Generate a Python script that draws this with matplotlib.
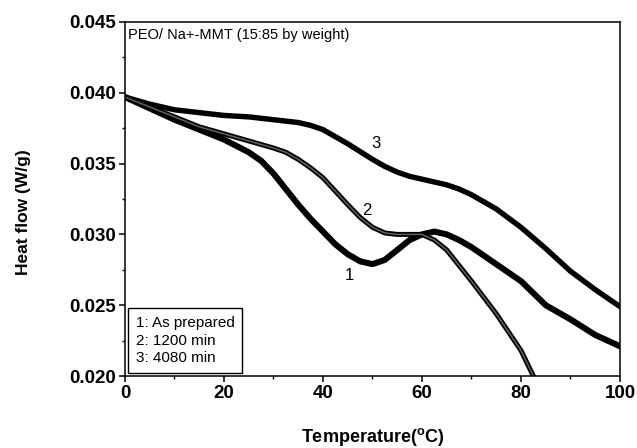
import matplotlib
matplotlib.use('Agg')
import matplotlib.pyplot as plt
import numpy as np
from matplotlib.ticker import MultipleLocator

plt.rcParams['font.family'] = ['Liberation Sans', 'DejaVu Sans']

# curve 1: as prepared
t1 = [0, 5, 10, 15, 20, 25, 27.5, 30, 32.5, 35, 37.5, 40, 42.5, 45, 47.5, 50, 52.5, 55, 57.5,
      60, 62.5, 65, 67.5, 70, 75, 80, 85, 90, 95, 100]
hf1 = [0.0397, 0.0389, 0.0381, 0.0374, 0.0367, 0.0358, 0.0352, 0.0343, 0.0332, 0.0321, 0.0311,
       0.0302, 0.0293, 0.0286, 0.0281, 0.0279, 0.0282, 0.0289, 0.0296, 0.0300, 0.0302, 0.0300,
       0.0296, 0.0291, 0.0279, 0.0267, 0.0250, 0.0240, 0.0229, 0.0221]

# curve 2: 1200 min
t2 = [0, 5, 10, 15, 20, 25, 30, 32.5, 35, 37.5, 40, 45, 47.5, 50, 52.5, 55, 57.5, 60, 62.5,
      65, 70, 75, 80, 82.5]
hf2 = [0.0397, 0.0390, 0.0383, 0.0376, 0.0371, 0.0366, 0.0361, 0.0358, 0.0353, 0.0347, 0.0340,
       0.0321, 0.0312, 0.0305, 0.0301, 0.0300, 0.0300, 0.0300, 0.0296, 0.0289, 0.0267, 0.0244,
       0.0218, 0.0200]

# curve 3: 4080 min
t3 = [0, 5, 10, 15, 20, 25, 30, 35, 37.5, 40, 42.5, 45, 50, 52.5, 55, 57.5, 60, 62.5, 65,
      67.5, 70, 75, 80, 85, 90, 95, 100]
hf3 = [0.0397, 0.0392, 0.0388, 0.0386, 0.0384, 0.0383, 0.0381, 0.0379, 0.0377, 0.0374, 0.0369,
       0.0364, 0.0353, 0.0348, 0.0344, 0.0341, 0.0339, 0.0337, 0.0335, 0.0332, 0.0328, 0.0318,
       0.0305, 0.0290, 0.0274, 0.0261, 0.0249]

curve_labels = ['1', '2', '3']
label_pos = [(45.3, 0.0271), (48.9, 0.0317), (50.7, 0.0364)]
legend_lines = ['1: As prepared', '2: 1200 min', '3: 4080 min']

fig = plt.figure(figsize=(6.37, 4.48), dpi=100)
ax = fig.add_axes([0.1962, 0.1607, 0.7771, 0.7902])

ax.plot(t1, hf1, color='black', lw=4.4, solid_joinstyle='round', solid_capstyle='round')
ax.plot(t3, hf3, color='black', lw=3.9, solid_joinstyle='round', solid_capstyle='round')
ax.plot(t2, hf2, color='black', lw=3.6, solid_joinstyle='round', solid_capstyle='round')
ax.plot(t2, hf2, color='#606060', lw=1.1, solid_joinstyle='round', solid_capstyle='round')

for lab, (x, y) in zip(curve_labels, label_pos):
    ax.text(x, y, lab, fontsize=12, ha='center', va='center')

ax.set_xlim(0, 100)
ax.set_ylim(0.020, 0.045)
ax.xaxis.set_major_locator(MultipleLocator(20))
ax.xaxis.set_minor_locator(MultipleLocator(10))
ax.yaxis.set_major_locator(MultipleLocator(0.005))
ax.yaxis.set_minor_locator(MultipleLocator(0.0025))
ax.yaxis.set_major_formatter(matplotlib.ticker.FormatStrFormatter('%.3f'))

ax.tick_params(which='major', direction='out', length=4.3, width=1.1, pad=2.5,
               labelsize=13.5, top=False, right=False)
ax.tick_params(which='minor', direction='out', length=2.5, width=1.0, top=False, right=False)
for lbl in ax.get_xticklabels() + ax.get_yticklabels():
    lbl.set_fontweight('bold')
for sp in ax.spines.values():
    sp.set_linewidth(1.1)

ax.set_xlabel('Temperature($^{\\mathregular{o}}$C)', fontsize=13, fontweight='bold', va='top')
ax.set_ylabel('Heat flow (W/g)', fontsize=12.5, fontweight='bold')
ax.xaxis.set_label_coords(0.5, -0.14)
ax.yaxis.set_label_coords(-0.19, 0.463)

ax.text(0.006, 0.962, 'PEO/ Na+-MMT (15:85 by weight)', transform=ax.transAxes,
        fontsize=10.5, ha='left', va='center')

ax.text(0.022, 0.03, '\n'.join(legend_lines), transform=ax.transAxes, fontsize=11,
        ha='left', va='bottom', linespacing=1.35,
        bbox=dict(boxstyle='square,pad=0.5', facecolor='white', edgecolor='black', lw=1.0))

fig.savefig('out.png', dpi=100)
